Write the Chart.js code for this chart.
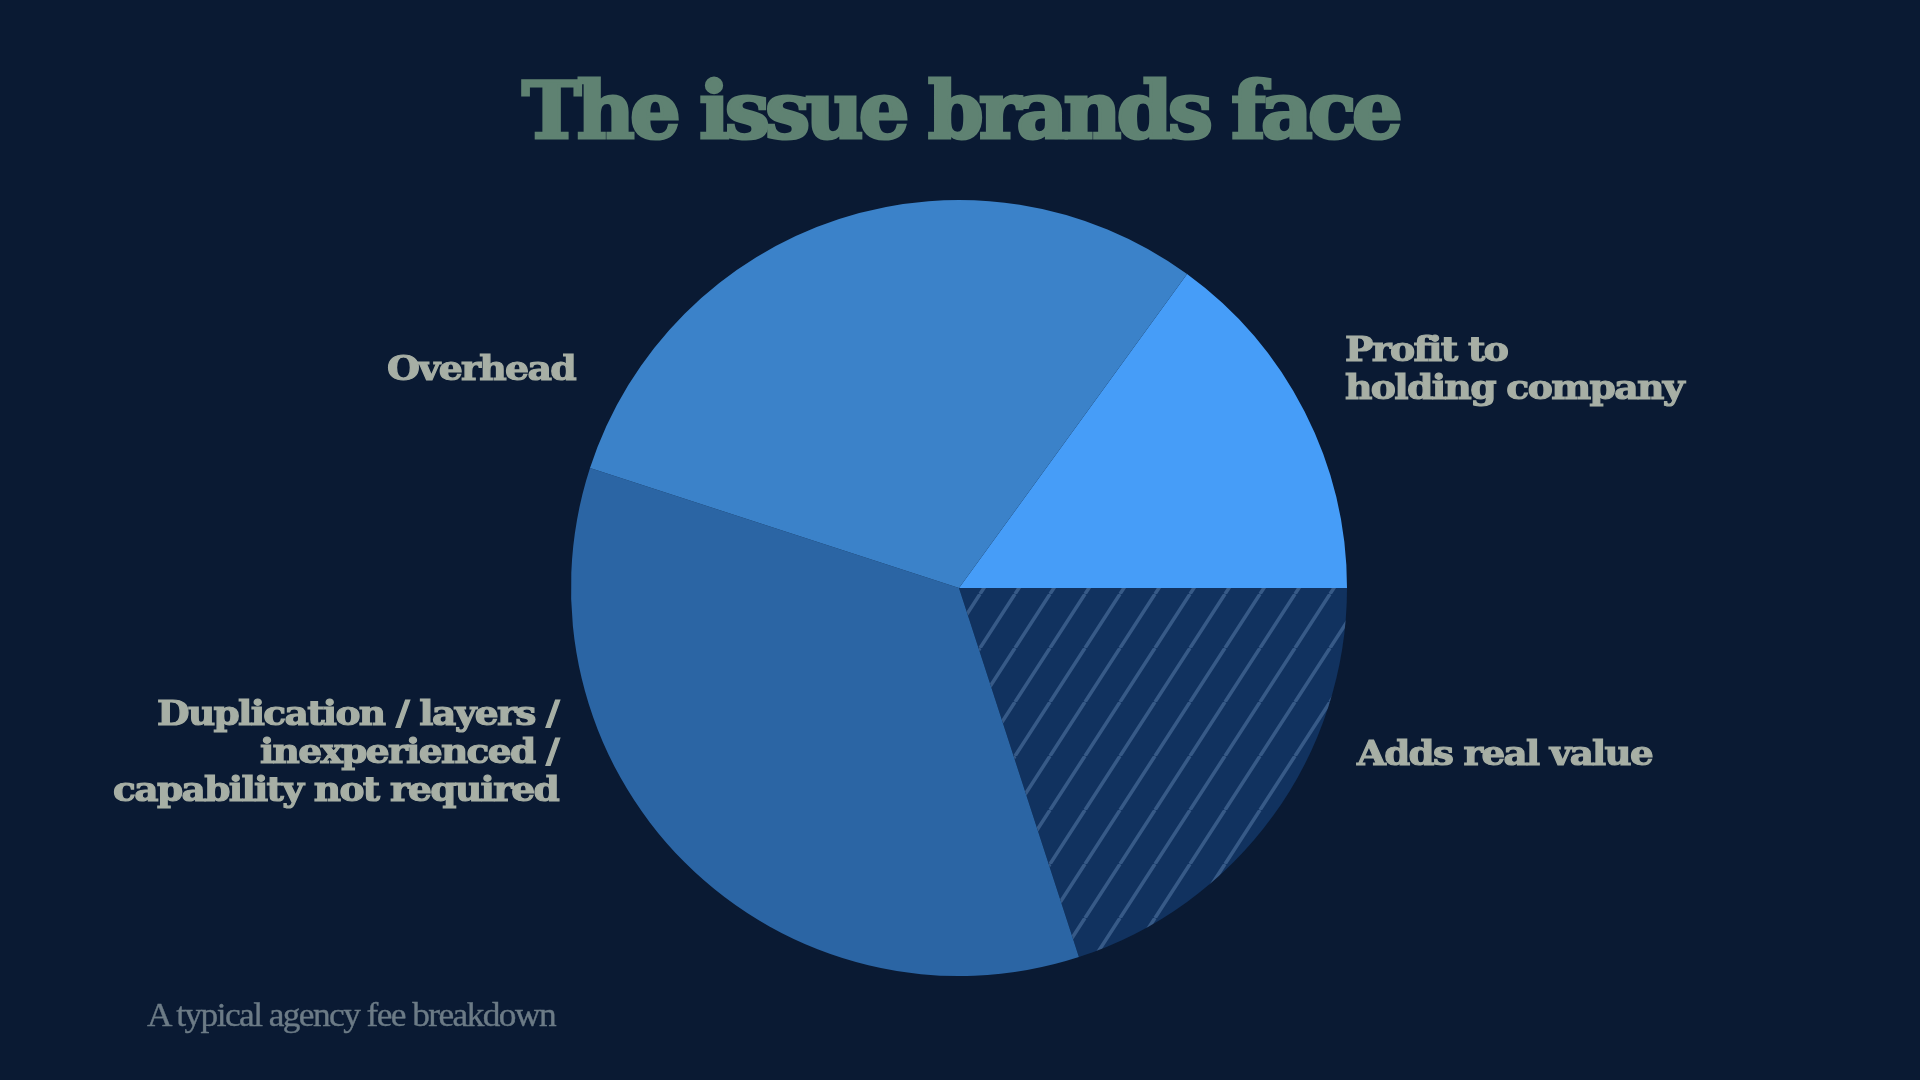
<!DOCTYPE html>
<html>
<head>
<meta charset="utf-8">
<script src="https://cdn.jsdelivr.net/npm/chart.js@4"></script>
<style>
  html, body { margin: 0; padding: 0; background: #0a1a33; }
  #stage { position: relative; width: 1920px; height: 1080px; overflow: hidden; background: #0a1a33; }
  #pie { position: absolute; left: 0; top: 0; }
  .txt { position: absolute; display: inline-block; white-space: nowrap; }
  #title {
    font-family: "DejaVu Serif Condensed", "DejaVu Serif", serif;
    font-stretch: condensed; font-weight: bold;
    font-size: 78px; line-height: 78px; color: #5f8272;
    letter-spacing: -4px; -webkit-text-stroke: 3px #5f8272;
  }
  .lbl {
    font-family: "DejaVu Serif", serif; font-weight: bold;
    font-size: 34px; line-height: 38px; color: #a7afa5;
    letter-spacing: -1.5px; -webkit-text-stroke: 1.2px #a7afa5;
  }
  #foot {
    font-family: "Liberation Serif", serif;
    font-size: 34px; line-height: 34px; color: #6c7b86; letter-spacing: -1.5px;
    -webkit-text-stroke: 0.4px #6c7b86;
  }
</style>
</head>
<body>
<div id="stage">
  <canvas id="pie" width="1920" height="1080"></canvas>
  <div id="title" class="txt">The issue brands face</div>
  <div id="foot" class="txt">A typical agency fee breakdown</div>
</div>
<script>
/* ---------------- Data ---------------- */
const categories = ['Profit to holding company', 'Adds real value', 'Duplication / layers / inexperienced / capability not required', 'Overhead'];
const shares = [15, 20, 35, 30];          // % of the fee
const startAngle = 36;                    // first slice starts 36° clockwise from the top
const labelLines = [
  ['Profit to', 'holding company'],
  ['Adds real value'],
  ['Duplication / layers /', 'inexperienced /', 'capability not required'],
  ['Overhead']
];

/* ---------------- Styles ---------------- */
const sliceColors = ['#469df8', '#11325f', '#2b65a4', '#3b82c9'];

// label boxes: side, x of aligned edge, top, width of widest line
const labelBoxes = [
  { side: 'left',  x: 1345, top: 330, w: 338 },
  { side: 'left',  x: 1357, top: 734, w: 295 },
  { side: 'right', x: 558,  top: 694, w: 445 },
  { side: 'right', x: 575,  top: 349, w: 188 }
];

// diagonal hatching for "Adds real value"
function makeHatch(base, line) {
  const w = 35, h = 54;
  const c = document.createElement('canvas');
  c.width = w; c.height = h;
  const g = c.getContext('2d');
  g.fillStyle = base;
  g.fillRect(0, 0, w, h);
  g.strokeStyle = line;
  g.lineWidth = 3.6;
  g.beginPath();
  g.moveTo(0, h); g.lineTo(w, 0);
  g.moveTo(-w, h); g.lineTo(0, 0);
  g.moveTo(w, h); g.lineTo(2 * w, 0);
  g.stroke();
  return g.createPattern(c, 'repeat');
}

const fills = sliceColors.slice();
fills[1] = makeHatch(sliceColors[1], '#375a87');

/* ---------------- Pie ---------------- */
const ctx = document.getElementById('pie').getContext('2d');
new Chart(ctx, {
  type: 'pie',
  data: {
    labels: categories,
    datasets: [{
      data: shares,
      backgroundColor: fills,
      borderWidth: 0,
      hoverOffset: 0
    }]
  },
  options: {
    responsive: false,
    animation: false,
    rotation: startAngle,
    layout: { padding: { left: 571, right: 573, top: 200, bottom: 104 } },
    plugins: {
      legend: { display: false },
      tooltip: { enabled: false },
      title: { display: false }
    }
  }
});

/* ---------------- Text ---------------- */
const stage = document.getElementById('stage');

function fitWidth(el, target, origin) {
  const w = el.getBoundingClientRect().width;
  el.style.transformOrigin = origin;
  el.style.transform = `scaleX(${target / w})`;
}

labelLines.forEach((lines, i) => {
  const box = labelBoxes[i];
  const el = document.createElement('div');
  el.className = 'txt lbl';
  el.innerHTML = lines.join('<br>');
  el.style.top = box.top + 'px';
  el.style.textAlign = box.side;
  if (box.side === 'left') el.style.left = box.x + 'px';
  else el.style.right = (1920 - box.x) + 'px';
  stage.appendChild(el);
  fitWidth(el, box.w, box.side + ' top');
});

const title = document.getElementById('title');
title.style.left = '522px';
title.style.top = '72px';
fitWidth(title, 876, 'left top');

const foot = document.getElementById('foot');
foot.style.left = '147px';
foot.style.top = '998px';
fitWidth(foot, 408, 'left top');
</script>
</body>
</html>
